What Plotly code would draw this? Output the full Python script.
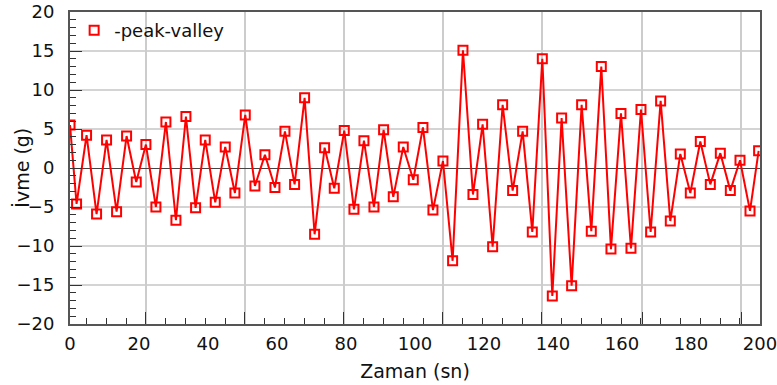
import plotly.graph_objects as go

# Data (time in s, acceleration in g)
zaman = [0.0, 1.9, 4.8, 7.7, 10.6, 13.5, 16.4, 19.2, 22.0, 24.9, 27.8, 30.7, 33.6, 36.4, 39.2,
         42.1, 45.0, 47.8, 50.8, 53.6, 56.5, 59.4, 62.3, 65.1, 68.0, 70.9, 73.8, 76.6, 79.5,
         82.3, 85.2, 88.1, 90.9, 93.7, 96.6, 99.5, 102.3, 105.2, 108.1, 110.9, 113.9, 116.8,
         119.6, 122.5, 125.4, 128.3, 131.2, 134.0, 136.9, 139.8, 142.5, 145.4, 148.3, 151.1,
         154.0, 156.8, 159.7, 162.6, 165.5, 168.3, 171.2, 174.0, 176.9, 179.8, 182.7, 185.6,
         188.5, 191.4, 194.2, 197.1, 199.6]
ivme = [5.5, -4.6, 4.2, -5.9, 3.6, -5.6, 4.1, -1.8, 3.0, -5.0, 5.9, -6.7, 6.6, -5.1, 3.6,
        -4.4, 2.7, -3.2, 6.8, -2.3, 1.7, -2.5, 4.7, -2.1, 9.0, -8.5, 2.6, -2.6, 4.8,
        -5.3, 3.5, -5.0, 4.9, -3.7, 2.7, -1.5, 5.2, -5.4, 0.9, -11.9, 15.1, -3.4,
        5.6, -10.1, 8.1, -2.9, 4.7, -8.2, 14.0, -16.4, 6.4, -15.1, 8.1, -8.1,
        13.0, -10.4, 7.0, -10.3, 7.5, -8.2, 8.6, -6.8, 1.8, -3.2, 3.4, -2.1,
        1.9, -2.9, 1.0, -5.5, 2.2]

x_tick_vals = [0, 20, 40, 60, 80, 100, 120, 140, 160, 180, 200]
x_tick_text = [str(v) for v in x_tick_vals]
x_grid_vals = [22.0, 50.7, 79.4, 108.1, 136.8, 165.8, 194.5]
x_minor_step = 5.74
x_minor_vals = [round(22.0 + k * x_minor_step, 2) for k in range(-3, 32)
                if 0 < 22.0 + k * x_minor_step < 200]

series_name = "-peak-valley"
x_title = "Zaman (sn)"
y_title = "İvme (g)"
RED = "#ff0000"
FONT = "DejaVu Sans"

fig = go.Figure()
fig.add_trace(go.Scatter(
    x=zaman, y=ivme, mode="lines+markers", name=series_name, showlegend=False,
    line=dict(color=RED, width=2),
    marker=dict(symbol="square-open", size=9, color=RED, line=dict(color=RED, width=2)),
    xaxis="x", yaxis="y",
))
# legend entry (marker only)
fig.add_trace(go.Scatter(
    x=[None], y=[None], mode="markers", name=series_name, showlegend=True,
    marker=dict(symbol="square-open", size=9, color=RED, line=dict(color=RED, width=2)),
    xaxis="x2", yaxis="y",
))

fig.update_layout(
    width=777, height=385,
    margin=dict(l=70, r=17, t=12, b=61),
    paper_bgcolor="white", plot_bgcolor="white",
    font=dict(family=FONT, size=18, color="#111"),
    showlegend=True,
    legend=dict(x=0.006, y=1.0, xanchor="left", yanchor="top",
                bgcolor="rgba(0,0,0,0)", font=dict(family=FONT, size=18, color="#111"),
                itemwidth=30),
    xaxis=dict(
        range=[0, 200], tickmode="array", tickvals=x_tick_vals, ticktext=x_tick_text,
        ticks="", showgrid=False, zeroline=False, ticklabeloverflow="allow",
        automargin=False,
        showline=True, mirror=True, linecolor="#555", linewidth=2,
        title=dict(text=x_title, standoff=12, font=dict(size=19)),
        tickfont=dict(size=18), ticklabelstandoff=2,
    ),
    xaxis2=dict(
        range=[0, 200], overlaying="x", anchor="y", side="bottom", automargin=False,
        tickmode="array", tickvals=x_grid_vals, showticklabels=False,
        ticks="inside", ticklen=12, tickwidth=1, tickcolor="#333",
        showgrid=True, gridcolor="#cccccc", gridwidth=1.5, zeroline=False, showline=False,
        minor=dict(tickmode="array", tickvals=x_minor_vals, ticks="inside", ticklen=6,
                   tickwidth=1, tickcolor="#333", showgrid=False),
    ),
    yaxis=dict(
        range=[-20, 20], tickmode="linear", tick0=-20, dtick=5, automargin=False,
        ticks="inside", ticklen=12, tickwidth=1, tickcolor="#333",
        minor=dict(dtick=1, ticks="inside", ticklen=6, tickwidth=1, tickcolor="#333",
                   showgrid=False),
        showgrid=True, gridcolor="#d4d4d4", gridwidth=2,
        zeroline=True, zerolinecolor="#444", zerolinewidth=1,
        showline=True, mirror=True, linecolor="#555", linewidth=2,
        tickfont=dict(size=18), ticklabelstandoff=10,
    ),
    annotations=[dict(text=y_title, xref="paper", yref="paper", x=-0.07, y=0.5,
                      xanchor="center", yanchor="middle", textangle=-90, showarrow=False,
                      font=dict(family=FONT, size=19, color="#111"))],
)

fig.write_html("out.html")
